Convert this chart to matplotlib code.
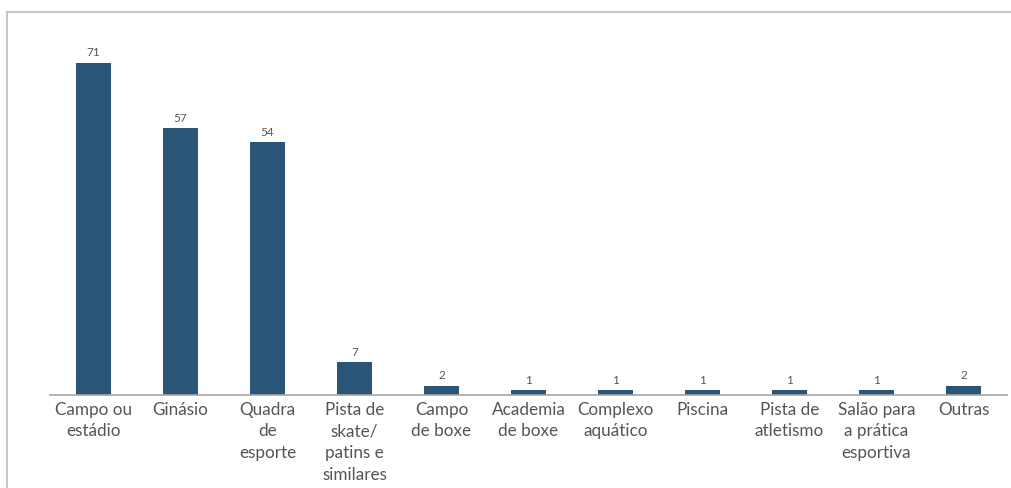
import matplotlib
matplotlib.use("Agg")
import matplotlib.pyplot as plt
from matplotlib.lines import Line2D

categories = ["Campo ou\nestádio", "Ginásio", "Quadra\nde\nesporte",
              "Pista de\nskate/\npatins e\nsimilares", "Campo\nde boxe",
              "Academia\nde boxe", "Complexo\naquático", "Piscina",
              "Pista de\natletismo", "Salão para\na prática\nesportiva", "Outras"]
values = [71, 57, 54, 7, 2, 1, 1, 1, 1, 1, 2]

plt.rcParams['font.family'] = ['Lato', 'DejaVu Sans']

W, H = 1012, 489
fig = plt.figure(figsize=(W/100, H/100), dpi=100)
bx, by = 7.5/W, (H-13)/H
fig.add_artist(Line2D([bx, 1.0], [by, by], transform=fig.transFigure,
                      color='#c8c8c8', linewidth=1.5))
fig.add_artist(Line2D([bx, bx], [0, by], transform=fig.transFigure,
                      color='#c8c8c8', linewidth=1.5))

ax = fig.add_axes([50/W, (H-396)/H, (1007-50)/W, (396-20)/H])
x = list(range(len(values)))
ax.bar(x, values, width=0.4, color='#2A5578')
ax.set_xlim(-0.5, len(values)-0.5)
ax.set_ylim(0, 376/4.676)
for xi, v in zip(x, values):
    ax.annotate(str(v), (xi, v), xytext=(0, 4), textcoords='offset points',
                ha='center', va='bottom', fontsize=8.5, color='#555555')
ax.set_xticks(x)
ax.set_xticklabels(categories, fontsize=12.3, color='#555555', linespacing=1.45, va='top')
ax.tick_params(axis='x', length=0, pad=4)
ax.set_yticks([])
for s in ['top', 'right', 'left']:
    ax.spines[s].set_visible(False)
ax.spines['bottom'].set_color('#a6a6a6')
ax.spines['bottom'].set_linewidth(1.2)
fig.savefig('out.png', dpi=100)
